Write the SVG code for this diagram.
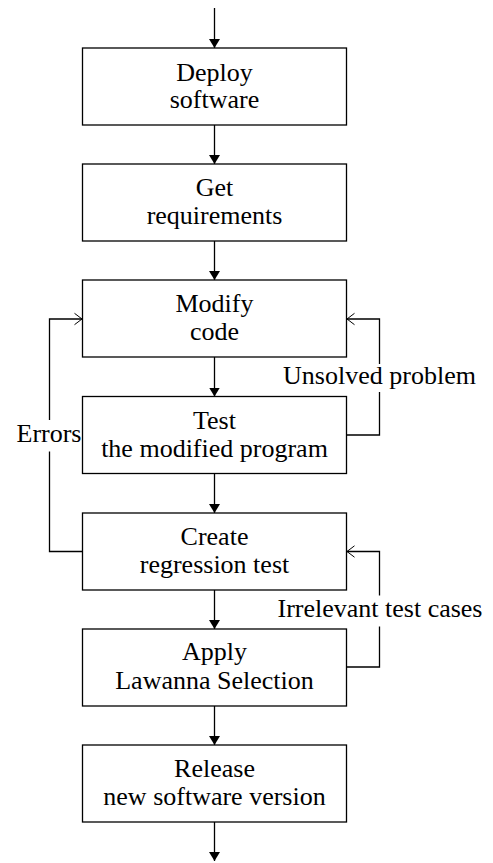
<svg xmlns="http://www.w3.org/2000/svg" width="493" height="863" viewBox="0 0 493 863">
<style>
  .box { fill: #fff; stroke: #000; stroke-width: 1.3; }
  .t { font-family: "Liberation Serif", "Times New Roman", serif; font-size: 26px; fill: #000; text-anchor: middle; }
  .ln { fill: none; stroke: #000; stroke-width: 1.3; }
  .flow { marker-end: url(#solid); }
  .loop { marker-end: url(#open); }
  .bg { fill: #fff; }
</style>
<defs>
  <marker id="solid" markerUnits="userSpaceOnUse" viewBox="0 0 9 11" refX="9" refY="5.5" markerWidth="9" markerHeight="11" orient="auto">
    <path d="M0,0 L9,5.5 L0,11 z" fill="#000"/>
  </marker>
  <marker id="open" markerUnits="userSpaceOnUse" viewBox="-1 -1 10 14" refX="7.5" refY="5.7" markerWidth="10" markerHeight="14" orient="auto">
    <path d="M0,0 L7.5,5.7 L0,11.4" fill="none" stroke="#000" stroke-width="1"/>
  </marker>
</defs>
<rect width="493" height="863" fill="#fff"/>
<g id="connectors">
  <line class="ln flow" x1="214.5" y1="8" x2="214.5" y2="48"/>
  <line class="ln flow" x1="214.5" y1="125" x2="214.5" y2="164"/>
  <line class="ln flow" x1="214.5" y1="241" x2="214.5" y2="280"/>
  <line class="ln flow" x1="214.5" y1="357" x2="214.5" y2="396.5"/>
  <line class="ln flow" x1="214.5" y1="473.5" x2="214.5" y2="513"/>
  <line class="ln flow" x1="214.5" y1="590" x2="214.5" y2="629"/>
  <line class="ln flow" x1="214.5" y1="706" x2="214.5" y2="745"/>
  <line class="ln flow" x1="214.5" y1="822" x2="214.5" y2="861"/>
  <path id="loop-unsolved" class="ln loop" d="M346.5,435 H379.5 V319 H347"/>
  <path id="loop-errors" class="ln loop" d="M82.5,551.5 H49.5 V319 H82"/>
  <path id="loop-irrelevant" class="ln loop" d="M346.5,667 H379.5 V551.5 H347"/>
</g>
<g id="labels">
  <g id="label-unsolved">
    <rect class="bg" x="370" y="364" width="19" height="28"/>
    <text class="t" x="379.5" y="384">Unsolved problem</text>
  </g>
  <g id="label-errors">
    <rect class="bg" x="40" y="420" width="19" height="31.5"/>
    <text class="t" x="81.5" y="441.5" style="text-anchor:end">Errors</text>
  </g>
  <g id="label-irrelevant">
    <rect class="bg" x="370" y="595.5" width="19" height="31"/>
    <text class="t" x="380" y="617">Irrelevant test cases</text>
  </g>
</g>
<g id="deploy">
  <rect class="box" x="82.5" y="48" width="264" height="77"/>
  <text class="t" x="214.5" y="80.5">Deploy</text>
  <text class="t" x="214.5" y="108">software</text>
</g>
<g id="requirements">
  <rect class="box" x="82.5" y="164" width="264" height="77"/>
  <text class="t" x="214.5" y="196">Get</text>
  <text class="t" x="214.5" y="223.5">requirements</text>
</g>
<g id="modify">
  <rect class="box" x="82.5" y="280" width="264" height="77"/>
  <text class="t" x="214.5" y="312">Modify</text>
  <text class="t" x="214.5" y="340">code</text>
</g>
<g id="test">
  <rect class="box" x="82.5" y="396.5" width="264" height="77"/>
  <text class="t" x="214.5" y="428.5">Test</text>
  <text class="t" x="214.5" y="456.5">the modified program</text>
</g>
<g id="regression">
  <rect class="box" x="82.5" y="513" width="264" height="77"/>
  <text class="t" x="214.5" y="544.5">Create</text>
  <text class="t" x="214.5" y="572.5">regression test</text>
</g>
<g id="lawanna">
  <rect class="box" x="82.5" y="629" width="264" height="77"/>
  <text class="t" x="214.5" y="660">Apply</text>
  <text class="t" x="214.5" y="688.5">Lawanna Selection</text>
</g>
<g id="release">
  <rect class="box" x="82.5" y="745" width="264" height="77"/>
  <text class="t" x="214.5" y="776.5">Release</text>
  <text class="t" x="214.5" y="805">new software version</text>
</g>
</svg>
